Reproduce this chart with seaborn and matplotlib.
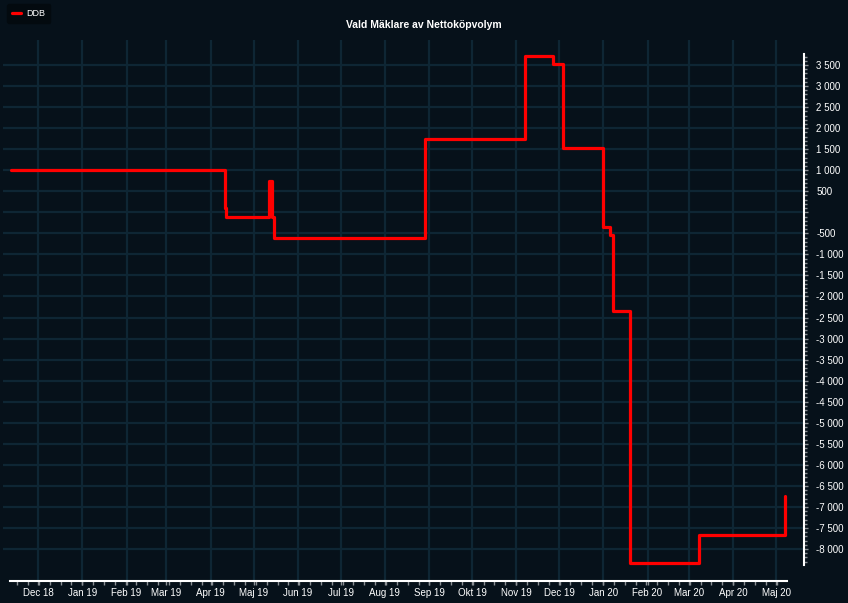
import matplotlib
matplotlib.use("Agg")
import matplotlib.pyplot as plt
import matplotlib.dates as mdates
import matplotlib.ticker as mticker
import numpy as np
import pandas as pd
import seaborn as sns

# ---- data ----
dates = ["2018-11-12", "2019-04-11", "2019-04-12", "2019-05-12", "2019-05-14",
         "2019-05-15", "2019-08-29", "2019-11-07", "2019-11-27", "2019-12-04",
         "2020-01-01", "2020-01-06", "2020-01-08", "2020-01-20", "2020-03-08",
         "2020-05-07"]
values = [1000, 110, -100, 750, -100,
          -600, 1730, 3720, 3530, 1530,
          -340, -550, -2340, -8325, -7660,
          -6740]
series_name = "DDB"
title = "Vald Mäklare av Nettoköpvolym"
month_starts = ["2018-12-01", "2019-01-01", "2019-02-01", "2019-03-01", "2019-04-01",
                "2019-05-01", "2019-06-01", "2019-07-01", "2019-08-01", "2019-09-01",
                "2019-10-01", "2019-11-01", "2019-12-01", "2020-01-01", "2020-02-01",
                "2020-03-01", "2020-04-01", "2020-05-01"]
month_labels = ["Dec 18", "Jan 19", "Feb 19", "Mar 19", "Apr 19", "Maj 19", "Jun 19",
                "Jul 19", "Aug 19", "Sep 19", "Okt 19", "Nov 19", "Dec 19", "Jan 20",
                "Feb 20", "Mar 20", "Apr 20", "Maj 20"]
y_ticks = [-8000, -7500, -7000, -6500, -6000, -5500, -5000, -4500, -4000, -3500,
           -3000, -2500, -2000, -1500, -1000, -500, 0, 500, 1000, 1500, 2000,
           2500, 3000, 3500]

df = pd.DataFrame({"date": pd.to_datetime(dates), "value": values})

# ---- style ----
BG = "#06111a"
GRID = "#0e2634"
sns.set_theme(style="dark")
plt.rcParams["font.family"] = ["Liberation Sans", "DejaVu Sans"]

fig = plt.figure(figsize=(8.48, 6.03), dpi=100, facecolor=BG)
ax = fig.add_axes([3 / 848, 22 / 603, (804 - 3) / 848, (581 - 40) / 603])
ax.set_facecolor(BG)

sns.lineplot(data=df, x="date", y="value", drawstyle="steps-post",
             color="#ff0000", linewidth=2.3, label=series_name, ax=ax, zorder=3)

# limits
d0 = mdates.date2num(pd.Timestamp("2018-12-01"))
px_day = 1.4275
ax.set_xlim(d0 + (3 - 38) / px_day, d0 + (804 - 38) / px_day)
ax.set_ylim(-8760, 4094)
x_lo = d0 + (10 - 38) / px_day
x_hi = d0 + (787 - 38) / px_day
y_lo, y_hi = -8380, 3761

# x ticks
mnums = [mdates.date2num(pd.Timestamp(m)) for m in month_starts]
ax.xaxis.set_major_locator(mticker.FixedLocator(mnums))
ax.xaxis.set_major_formatter(mticker.FixedFormatter(month_labels))
week_ticks = np.arange(x_lo + 5, x_hi, 7.6)
ax.xaxis.set_minor_locator(mticker.FixedLocator(week_ticks))
ax.tick_params(axis="x", which="major", length=3, width=1, color="#8a8f94",
               labelcolor="white", labelsize=7, pad=2, bottom=True)
ax.tick_params(axis="x", which="minor", length=3, width=1, color="#8a8f94", bottom=True)

# y ticks on right
ax.yaxis.tick_right()
ax.yaxis.set_major_locator(mticker.FixedLocator(y_ticks))
ax.yaxis.set_minor_locator(mticker.FixedLocator(np.arange(-8300, 3701, 100)))


def fmt(v, pos):
    if abs(v) < 1e-6:
        return ""
    s = f"{int(round(v)):,}".replace(",", " ")
    return s


ax.yaxis.set_major_formatter(mticker.FuncFormatter(fmt))
ax.tick_params(axis="y", which="major", length=3, width=1, color="#8a8f94",
               labelcolor="white", labelsize=7, pad=6, right=True, left=False)
ax.tick_params(axis="y", which="minor", length=2, width=1, color="#8a8f94",
               right=True, left=False)

ax.set_xlabel("")
ax.set_ylabel("")

# grid
ax.grid(True, which="major", color=GRID, linewidth=1.6)
ax.grid(False, which="minor")

# spines
for s in ["top", "left"]:
    ax.spines[s].set_visible(False)
ax.spines["bottom"].set_color("white")
ax.spines["bottom"].set_linewidth(1.5)
ax.spines["bottom"].set_bounds(x_lo, x_hi)
ax.spines["right"].set_color("white")
ax.spines["right"].set_linewidth(1.5)
ax.spines["right"].set_bounds(y_lo, y_hi)

# title
fig.text(0.5, 1 - 25 / 603, title, ha="center", va="center", color="white",
         fontsize=7.5, fontweight="bold")

# legend
leg = ax.legend(loc="upper left", bbox_to_anchor=(7 / 848, 1 - 4 / 603),
                bbox_transform=fig.transFigure, frameon=True, fontsize=6.5,
                handlelength=1.0, handletextpad=0.6, borderpad=0.55,
                borderaxespad=0,
                facecolor="#030a0f", edgecolor="#030a0f", framealpha=1)
for t in leg.get_texts():
    t.set_color("white")
for h in leg.get_lines():
    h.set_linewidth(2.3)

fig.savefig("out.png", dpi=100, facecolor=BG)
